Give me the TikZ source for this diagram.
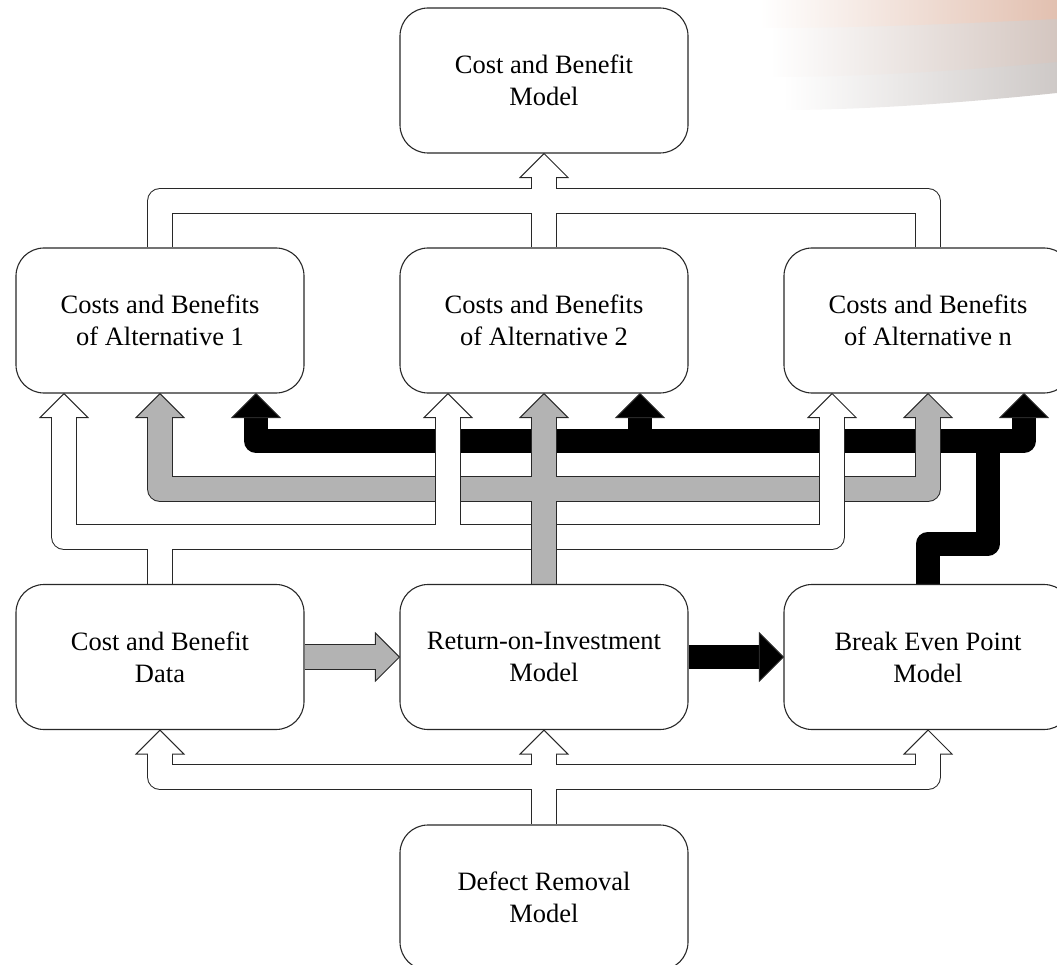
\documentclass[tikz,border=0pt]{standalone}
\usepackage{fontspec}
\setmainfont{Liberation Serif}
\usetikzlibrary{calc}
\definecolor{midgray}{RGB}{179,179,179}
\definecolor{peach}{RGB}{226,192,176}
\definecolor{pinkgray}{RGB}{212,198,192}
\definecolor{warmgray}{RGB}{206,201,199}
\definecolor{lineclr}{RGB}{40,40,40}
\pgfdeclarelayer{bg}
\pgfsetlayers{bg,main}
\begin{document}
\begin{tikzpicture}[x=1pt,y=-1pt,
  box/.style={draw=lineclr, line width=1.1pt, fill=white, rounded corners=28pt,
    minimum width=288pt, minimum height=145pt, align=center, inner sep=0pt,
    font=\fontsize{26.5}{32}\selectfont},
  shaftout/.style={line width=26pt, draw=lineclr, line join=round, line cap=butt},
  shaftin/.style={line width=24pt, line join=round, line cap=butt},
  headstyle/.style={draw=lineclr, line width=1pt, line join=miter},
]
\useasboundingbox (0,0) rectangle (1057,965);

% boxes
\node[box] (top)  at (544,80.5)  {Cost and Benefit\\Model};
\node[box] (alt1) at (160,320.5) {Costs and Benefits\\of Alternative 1};
\node[box] (alt2) at (544,320.5) {Costs and Benefits\\of Alternative 2};
\node[box] (altn) at (928,320.5) {Costs and Benefits\\of Alternative n};
\node[box] (cbd)  at (160,657)   {Cost and Benefit\\Data};
\node[box] (roi)  at (544,657)   {Return-on-Investment\\Model};
\node[box] (bep)  at (928,657)   {Break Even Point\\Model};
\node[box] (drm)  at (544,897.5) {Defect Removal\\Model};

\begin{pgfonlayer}{bg}
% decorative swoosh
\shade[left color=white, right color=warmgray]
  (783,0) -- (1057,0) -- (1057,93) .. controls (990,100) and (880,110) .. (783,110) -- cycle;
\shade[left color=white, right color=pinkgray]
  (770,0) -- (1057,0) -- (1057,62) .. controls (990,68) and (880,77) .. (770,77) -- cycle;
\shade[left color=white, right color=peach]
  (760,0) -- (1057,0) -- (1057,19) .. controls (990,22) and (880,28) .. (760,28) -- cycle;

% ---------- black structure ----------
\draw[shaftin, black] ([xshift=96pt,yshift=-23pt]alt1.south) -- (256,441) -- (1024,441)
  -- ([xshift=96pt,yshift=-23pt]altn.south);
\draw[shaftin, black] (640,441) -- ([xshift=96pt,yshift=-23pt]alt2.south);
\draw[shaftin, black] (bep.north) -- (928,543.5) -- (988,543.5) -- (988,441);
\draw[shaftin, black] (roi.east) -- ([xshift=-23pt]bep.west);
\foreach \n in {alt1,alt2,altn}
  \filldraw[headstyle, fill=black] ([xshift=96pt]\n.south) -- ++(24,24) -- ++(-48,0) -- cycle;
\filldraw[headstyle, fill=black] (bep.west) -- ++(-24,-24) -- ++(0,48) -- cycle;

% ---------- gray structure ----------
\draw[shaftout] (alt1.south |- 0,416) -- (160,489) -- (928,489) -- ([yshift=-23pt]altn.south);
\draw[shaftout] (roi.north) -- ([yshift=-23pt]alt2.south);
\draw[shaftout] (cbd.east) -- ([xshift=-23pt]roi.west);
\foreach \n in {alt1,alt2,altn}
  \filldraw[headstyle, fill=midgray] (\n.south) -- ++(24,24) -- ++(-48,0) -- cycle;
\filldraw[headstyle, fill=midgray] (roi.west) -- ++(-24,-24) -- ++(0,48) -- cycle;
\draw[shaftin, midgray] (alt1.south |- 0,416) -- (160,489) -- (928,489) -- ([yshift=-23pt]altn.south);
\draw[shaftin, midgray] (roi.north) -- ([yshift=-23pt]alt2.south);
\draw[shaftin, midgray] (cbd.east) -- ([xshift=-23pt]roi.west);

% ---------- white structures ----------
\draw[shaftout] ([xshift=-96pt,yshift=-23pt]alt1.south) -- (64,537) -- (832,537)
  -- ([xshift=-96pt,yshift=-23pt]altn.south);
\draw[shaftout] (cbd.north) -- (160,537);
\draw[shaftout] (448,537) -- ([xshift=-96pt,yshift=-23pt]alt2.south);
\draw[shaftout] (alt1.north) -- (160,201) -- (928,201) -- (altn.north);
\draw[shaftout] (alt2.north) -- ([yshift=-23pt]top.south);
\draw[shaftout] (drm.north) -- ([yshift=-23pt]roi.south);
\draw[shaftout] ([yshift=-23pt]cbd.south) -- (160,777) -- (928,777) -- ([yshift=-23pt]bep.south);
\foreach \n in {alt1,alt2,altn}
  \filldraw[headstyle, fill=white] ([xshift=-96pt]\n.south) -- ++(24,24) -- ++(-48,0) -- cycle;
\foreach \n in {top,cbd,roi,bep}
  \filldraw[headstyle, fill=white] (\n.south) -- ++(24,24) -- ++(-48,0) -- cycle;
\draw[shaftin, white] ([xshift=-96pt,yshift=-23pt]alt1.south) -- (64,537) -- (832,537)
  -- ([xshift=-96pt,yshift=-23pt]altn.south);
\draw[shaftin, white] (cbd.north) -- (160,537);
\draw[shaftin, white] (448,537) -- ([xshift=-96pt,yshift=-23pt]alt2.south);
\draw[shaftin, white] (alt1.north) -- (160,201) -- (928,201) -- (altn.north);
\draw[shaftin, white] (alt2.north) -- ([yshift=-23pt]top.south);
\draw[shaftin, white] (drm.north) -- ([yshift=-23pt]roi.south);
\draw[shaftin, white] ([yshift=-23pt]cbd.south) -- (160,777) -- (928,777) -- ([yshift=-23pt]bep.south);

% gray vertical passes over the white band
\coordinate (gtop) at (544,512);
\coordinate (gbot) at (544,562);
\draw[shaftout] (gtop) -- (gbot);
\draw[shaftin, midgray] (gtop) -- (gbot);
\end{pgfonlayer}
\end{tikzpicture}
\end{document}
